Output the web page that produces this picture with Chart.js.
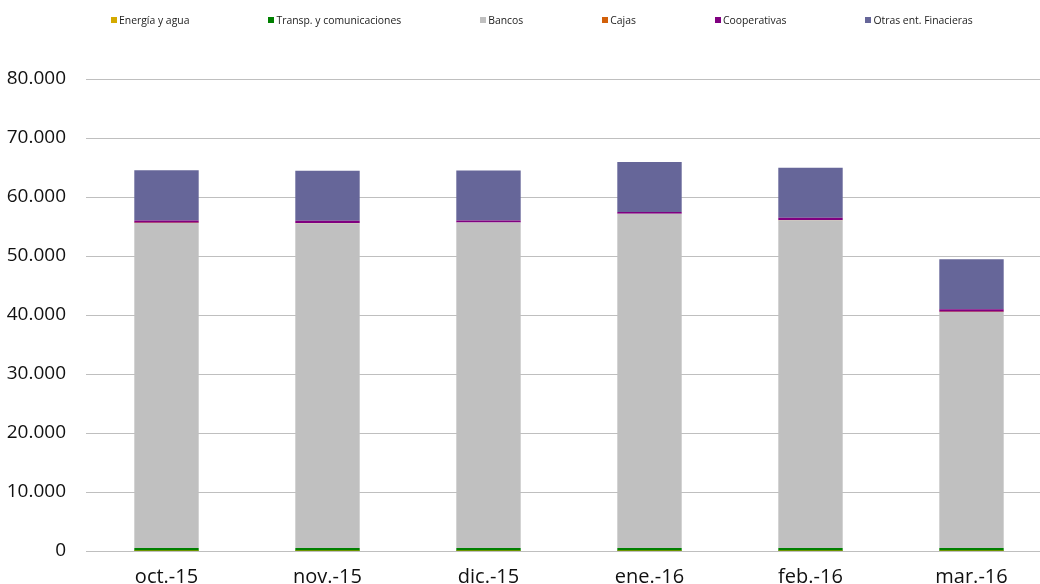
<!DOCTYPE html>
<html>
<head>
<meta charset="utf-8">
<script src="https://cdn.jsdelivr.net/npm/chart.js@4/dist/chart.umd.min.js"></script>
<style>
  html, body { margin: 0; padding: 0; background: #fff; overflow: hidden; }
  #wrap { position: relative; width: 1040px; height: 584px; overflow: hidden; }
  #c { position: absolute; left: 0; top: 0; }
  #legend { position: absolute; left: 111px; top: 13px; display: flex; gap: 79px; font-family: "Open Sans", sans-serif; font-size: 10.4px; color: #222; white-space: nowrap; }
  #legend .item { display: flex; align-items: center; }
  #legend .box { width: 6px; height: 6px; margin-right: 2px; }
</style>
</head>
<body>
<div id="wrap">
  <canvas id="c" width="1060" height="584"></canvas>
  <div id="legend"></div>
</div>
<script>
const categories = ["oct.-15", "nov.-15", "dic.-15", "ene.-16", "feb.-16", "mar.-16"];
const seriesNames = ["Energía y agua", "Transp. y comunicaciones", "Bancos", "Cajas", "Cooperativas", "Otras ent. Finacieras"];
const energia = [20, 20, 20, 20, 20, 20];
const transp = [500, 500, 500, 500, 500, 500];
const bancos = [55090, 55050, 55140, 56620, 55550, 40000];
const cajas = [15, 15, 15, 15, 15, 15];
const cooperativas = [390, 390, 350, 290, 390, 450];
const otras = [8525, 8470, 8470, 8475, 8475, 8475];
const yTicks = [0, 10000, 20000, 30000, 40000, 50000, 60000, 70000, 80000];

const colors = ["#d4aa00", "#008000", "#c0c0c0", "#d2600a", "#800080", "#666699"];
const seriesValues = [energia, transp, bancos, cajas, cooperativas, otras];

const datasets = seriesNames.map((name, i) => ({
  label: name,
  data: seriesValues[i],
  backgroundColor: colors[i],
  borderWidth: 0,
  categoryPercentage: 1,
  barPercentage: 0.4
}));

// HTML legend built from the series
const leg = document.getElementById('legend');
seriesNames.forEach((name, i) => {
  const it = document.createElement('div');
  it.className = 'item';
  const b = document.createElement('span');
  b.className = 'box';
  b.style.background = colors[i];
  const t = document.createElement('span');
  t.textContent = name;
  it.appendChild(b); it.appendChild(t);
  leg.appendChild(it);
});

const fmt = v => v === 0 ? "0" : v.toLocaleString('de-DE');

new Chart(document.getElementById('c'), {
  type: 'bar',
  data: { labels: categories, datasets },
  options: {
    responsive: false,
    animation: false,
    layout: { padding: { top: 79, right: 8, bottom: 0, left: 0 } },
    plugins: { legend: { display: false }, tooltip: { enabled: false } },
    scales: {
      x: {
        stacked: true,
        grid: { display: false, drawTicks: false },
        border: { display: false },
        ticks: { font: { family: "Open Sans", size: 20 }, color: "#111", padding: 14, maxRotation: 0 },
        afterFit: s => { s.height = 33; }
      },
      y: {
        stacked: true,
        min: 0, max: 80000,
        afterBuildTicks: s => { s.ticks = yTicks.map(v => ({ value: v })); },
        grid: { color: "#bfbfbf", lineWidth: 1, drawTicks: false },
        border: { display: false },
        ticks: { font: { family: "Open Sans", size: 19 }, color: "#111", padding: 20, callback: v => fmt(v) },
        afterFit: s => { s.width = 86; }
      }
    }
  }
});
</script>
</body>
</html>
